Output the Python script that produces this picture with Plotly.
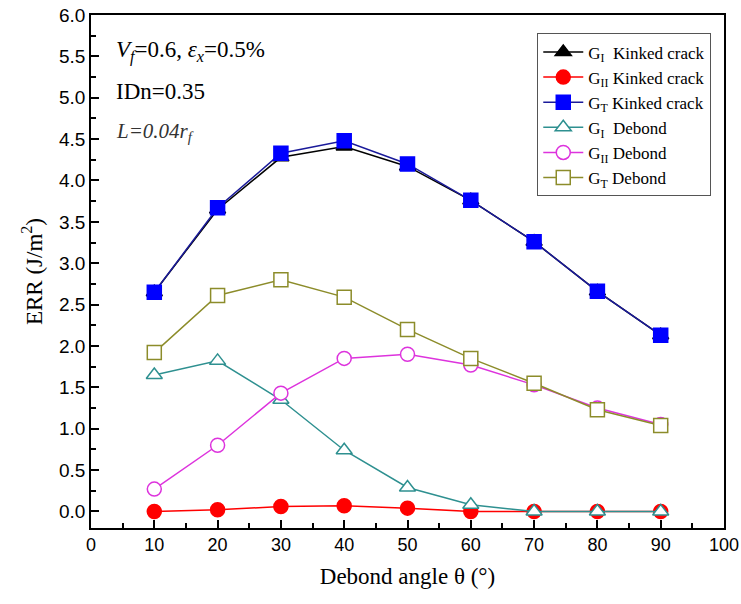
import plotly.graph_objects as go

angles = [10, 20, 30, 40, 50, 60, 70, 80, 90]
gi_kinked = [2.65, 3.65, 4.28, 4.41, 4.17, 3.76, 3.26, 2.66, 2.13]
gii_kinked = [0.0, 0.02, 0.06, 0.07, 0.04, 0.0, 0.0, 0.0, 0.0]
gt_kinked = [2.65, 3.67, 4.33, 4.48, 4.20, 3.76, 3.26, 2.66, 2.13]
gi_debond = [1.65, 1.82, 1.35, 0.74, 0.29, 0.08, 0.0, 0.0, 0.0]
gii_debond = [0.27, 0.80, 1.43, 1.85, 1.90, 1.77, 1.53, 1.25, 1.05]
gt_debond = [1.92, 2.61, 2.80, 2.59, 2.20, 1.85, 1.55, 1.23, 1.04]

series = [
    ("G<sub>I</sub>  Kinked crack", gi_kinked, "black", "triangle-up", True),
    ("G<sub>II</sub> Kinked crack", gii_kinked, "#FF0000", "circle", True),
    ("G<sub>T</sub> Kinked crack", gt_kinked, "#0000FF", "square", True),
    ("G<sub>I</sub>  Debond", gi_debond, "#2E9090", "triangle-up", False),
    ("G<sub>II</sub> Debond", gii_debond, "#DD33DD", "circle", False),
    ("G<sub>T</sub> Debond", gt_debond, "#8C8C2A", "square", False),
]

fig = go.Figure()
for name, vals, color, sym, filled in series:
    line_color = "#1a1a9a" if color == "#0000FF" else color
    fig.add_trace(go.Scatter(
        x=angles, y=vals, name=name, mode="lines+markers",
        line=dict(color=line_color, width=1.5),
        marker=dict(symbol=sym, size=14, color=color if filled else "white",
                    line=dict(color=color, width=1.5)),
    ))

serif = "Liberation Serif, Times New Roman, serif"
sans = "Liberation Sans, Arial, sans-serif"

fig.update_layout(
    width=741, height=604,
    margin=dict(l=91, r=17, t=15, b=76),
    paper_bgcolor="white", plot_bgcolor="white",
    showlegend=True,
    legend=dict(x=0.705, y=0.964, xanchor="left", yanchor="top",
                bordercolor="#555555", borderwidth=1,
                font=dict(family=serif, size=17, color="black"),
                tracegroupgap=0, itemwidth=40),
    xaxis=dict(range=[0, 100], tickvals=[0, 10, 20, 30, 40, 50, 60, 70, 80, 90, 100],
               automargin=False,
               ticks="inside", ticklen=8, tickwidth=1.5, tickcolor="black",
               minor=dict(dtick=5, ticks="inside", ticklen=5, tickcolor="black", tickwidth=1.5),
               showline=True, linecolor="black", linewidth=1.5, mirror=True,
               showgrid=False, zeroline=False,
               tickfont=dict(family=sans, size=18, color="black"),
               title=dict(text="Debond angle θ (°)", font=dict(family=serif, size=23, color="black"), standoff=14)),
    yaxis=dict(range=[-0.2, 6.0], tickvals=[0, 0.5, 1, 1.5, 2, 2.5, 3, 3.5, 4, 4.5, 5, 5.5, 6],
               tickformat=".1f", automargin=False,
               ticks="inside", ticklen=8, tickwidth=1.5, tickcolor="black",
               minor=dict(dtick=0.25, tick0=0, ticks="inside", ticklen=5, tickcolor="black", tickwidth=1.5),
               showline=True, linecolor="black", linewidth=1.5, mirror=True,
               showgrid=False, zeroline=False,
               tickfont=dict(family=sans, size=19, color="black"),
               title=dict(text="ERR (J/m<sup>2</sup>)", font=dict(family=serif, size=23, color="black"), standoff=10)),
    annotations=[
        dict(x=0.037, y=0.928, xref="paper", yref="paper", xanchor="left", yanchor="middle",
             text="<i>V</i><sub><i>f</i></sub>=0.6, <i>ε</i><sub><i>x</i></sub>=0.5%", showarrow=False,
             font=dict(family=serif, size=23, color="black")),
        dict(x=0.037, y=0.85, xref="paper", yref="paper", xanchor="left", yanchor="middle",
             text="IDn=0.35", showarrow=False, font=dict(family=serif, size=23, color="black")),
        dict(x=0.037, y=0.772, xref="paper", yref="paper", xanchor="left", yanchor="middle",
             text="<i>L=0.04r</i><sub><i>f</i></sub>", showarrow=False,
             font=dict(family=serif, size=21, color="#333333")),
    ],
)

fig.write_html("out.html", config={"displayModeBar": False},
               post_script="document.body.style.margin='0px';document.body.style.overflow='hidden';")
